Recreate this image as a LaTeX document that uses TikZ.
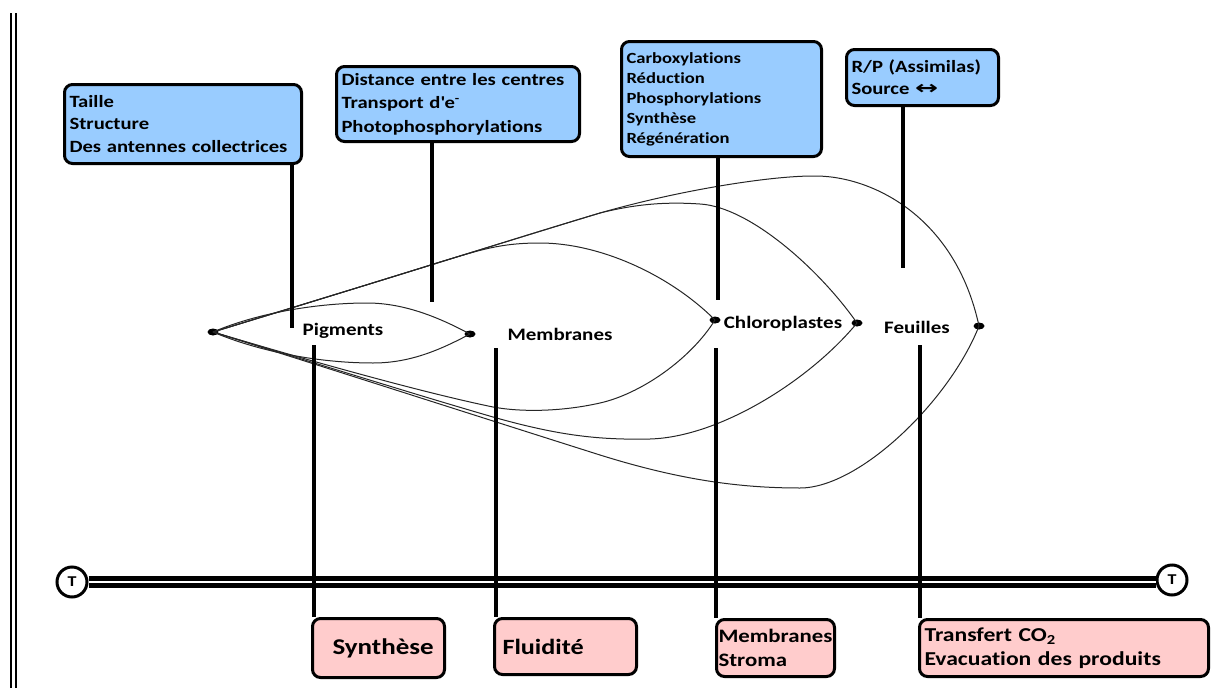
\documentclass[tikz,border=0pt]{standalone}
\usepackage{fontspec}
\setmainfont{Carlito}[FakeStretch=1.2, Ligatures=NoCommon]
\newfontfamily\arrowfont{DejaVu Sans}
\usetikzlibrary{shapes.geometric}
\definecolor{boxblue}{RGB}{153,204,255}
\definecolor{boxpink}{RGB}{255,204,204}
\begin{document}
\begin{tikzpicture}[x=1pt,y=-1pt,
  bluebox/.style={draw=black, line width=3, rounded corners=8, fill=boxblue, anchor=north west, align=left, inner xsep=5, inner ysep=2},
  pinkbox/.style={draw=black, line width=3, rounded corners=8, fill=boxpink, anchor=north west, align=left, inner xsep=4, inner ysep=2},
  conn/.style={line width=4, line cap=butt},
  leaf/.style={line width=1, draw=black!85},
  dotnode/.style={ellipse, fill=black, minimum width=11, minimum height=7, inner sep=0},
  lbl/.style={font=\fontsize{17.5}{20}\selectfont\bfseries, inner sep=1},
  tnode/.style={circle, draw=black, line width=3, fill=white, minimum size=30, inner sep=0, font=\fontsize{15}{16}\selectfont\bfseries}
]
\useasboundingbox (0,0) rectangle (1229,688);
% left border
\draw[line width=2] (11,13) -- (11,688);
\draw[line width=2] (15.5,13) -- (15.5,688);

% top boxes
\node[bluebox, text width=227, minimum height=79, font=\fontsize{17.2}{22.5}\selectfont\bfseries] (b1) at (63,83)
  {Taille\\Structure\\Des antennes collectrices};
\node[bluebox, text width=233, minimum height=75, font=\fontsize{17.2}{23.5}\selectfont\bfseries] (b2) at (335,65)
  {Distance entre les centres\\Transport d\textquotesingle e\textsuperscript{-}\\Photophosphorylations};
\node[bluebox, text width=190, minimum height=115, font=\fontsize{15.5}{20}\selectfont\bfseries] (b3) at (620,40)
  {Carboxylations\\Réduction\\Phosphorylations\\Synthèse\\Régénération};
\node[bluebox, text width=142, minimum height=56, font=\fontsize{17.2}{22}\selectfont\bfseries] (b4) at (845,48)
  {R/P (Assimilas)\\Source \scalebox{1.6}[1.1]{\arrowfont\bfseries ↔}};

% bottom boxes
\node[pinkbox, inner xsep=20, text width=92, minimum height=59, font=\fontsize{22.5}{26}\selectfont\bfseries] (p1) at (311,617) {Synthèse};
\node[pinkbox, inner xsep=8, text width=126, minimum height=56, font=\fontsize{21.8}{26}\selectfont\bfseries] (p2) at (493,617) {Fluidité};
\node[pinkbox, inner xsep=2, text width=114, minimum height=57, font=\fontsize{19}{24.5}\selectfont\bfseries] (p3) at (715,618) {Membranes\\Stroma};
\node[pinkbox, inner xsep=5, text width=279, minimum height=57, font=\fontsize{19.7}{24.5}\selectfont\bfseries] (p4) at (918,618) {Transfert CO\textsubscript{2}\\Evacuation des produits};

% labels
\node[lbl] (pig) at (343,331) {Pigments};
\node[lbl] (mem) at (560,334) {Membranes};
\node[lbl] (chl) at (783,324) {Chloroplastes};
\node[lbl] (feu) at (917,327) {Feuilles};

% dots
\node[dotnode] (d0) at (213,332) {};
\node[dotnode] (d1) at (470,334) {};
\node[dotnode] (d2) at (715,320) {};
\node[dotnode] (d3) at (857,323) {};
\node[dotnode] (d4) at (979,326) {};

% leaf curves
% Pigments
\draw[leaf] (d0.center) .. controls (260,312) and (320,303) .. (367,303) .. controls (405,303) and (440,318) .. (d1.center);
\draw[leaf] (d0.center) .. controls (260,352) and (320,363) .. (373,363) .. controls (410,363) and (440,350) .. (d1.center);
% Chloroplastes (left)
\draw[leaf] (d0.center) .. controls (300,305) and (380,281) .. (440,262) .. controls (480,250) and (500,243) .. (540,243) .. controls (600,243) and (670,275) .. (d2.center);
\draw[leaf] (d0.center) .. controls (300,358) and (420,392) .. (493,407) .. controls (520,412) and (560,412) .. (600,403) .. controls (640,394) and (690,360) .. (d2.center);
% Chloroplastes (right)
\draw[leaf] (d0.center) .. controls (400,275) and (520,237) .. (600,213) .. controls (640,203) and (670,202) .. (700,204) .. controls (750,207) and (820,270) .. (d3.center);
\draw[leaf] (d0.center) .. controls (306,360) and (400,390) .. (493,417) .. controls (560,436) and (600,440) .. (650,439) .. controls (720,437) and (810,380) .. (d3.center);
% Feuilles
\draw[leaf] (d0.center) .. controls (400,275) and (520,237) .. (600,213) .. controls (680,190) and (770,176) .. (813,176) .. controls (870,175) and (955,215) .. (d4.center);
\draw[leaf] (d0.center) .. controls (340,372) and (480,417) .. (600,455) .. controls (680,480) and (740,488) .. (800,488) .. controls (860,488) and (950,400) .. (d4.center);

% time axis
\node[tnode] (tl) at (72,582) {T};
\node[tnode] (tr) at (1172,580) {T};
\draw[line width=5, double=white, double distance=2.7] (tl.east) -- (tl.east -| tr.west);

% connectors from top boxes
\coordinate (c1) at (292,328);
\coordinate (c2) at (432,302);
\coordinate (c3) at (718,300);
\coordinate (c4) at (903,268);
\draw[conn] (b1.south -| c1) -- (c1);
\draw[conn] (b2.south -| c2) -- (c2);
\draw[conn] (b3.south -| c3) -- (c3);
\draw[conn] (b4.south -| c4) -- (c4);

% connectors to bottom boxes
\coordinate (e1) at (314,345);
\coordinate (e2) at (496,348);
\coordinate (e3) at (716,348);
\coordinate (e4) at (920,345);
\draw[conn] (e1) -- (e1 |- p1.north);
\draw[conn] (e2) -- (e2 |- p2.north);
\draw[conn] (e3) -- (e3 |- p3.north);
\draw[conn] (e4) -- (e4 |- p4.north);
\end{tikzpicture}
\end{document}
